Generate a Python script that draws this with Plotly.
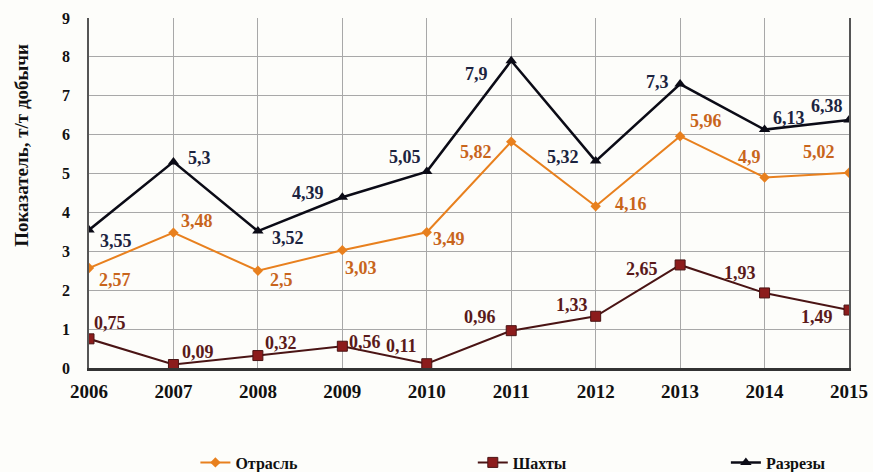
import plotly.graph_objects as go

years = [2006, 2007, 2008, 2009, 2010, 2011, 2012, 2013, 2014, 2015]
otrasl = [2.57, 3.48, 2.5, 3.03, 3.49, 5.82, 4.16, 5.96, 4.9, 5.02]
shakhty = [0.75, 0.09, 0.32, 0.56, 0.11, 0.96, 1.33, 2.65, 1.93, 1.49]
razrezy = [3.55, 5.3, 3.52, 4.39, 5.05, 7.9, 5.32, 7.3, 6.13, 6.38]
y_title = "Показатель, т/т добычи"

# value-label offsets from each marker, in screen pixels (dx right, dy down)
off_otrasl = [(26, 12), (24, -12), (24, 9), (19, 18), (22, 7),
              (-35, 10), (35, -2), (26, -15), (-15, -20), (-30, -21)]
off_shakhty = [(21, -16), (25, -13), (23, -13), (23, -4), (-25, -18),
               (-31, -14), (-24, -11), (-38, 4), (-25, -20), (-32, 7)]
off_razrezy = [(27, 11), (26, -4), (30, 7), (-34, -4), (-22, -15),
               (-35, 13), (-33, -4), (-23, -2), (24, -12), (-22, -14)]

def fmt(v):
    return str(v).replace(".", ",")

SERIF = "Liberation Serif"
ORANGE = "#E8801E"
MAROON = "#8C1C1C"
BLACK = "#0B0B16"
LABEL_SIZE = 18

series = [
    dict(name="Отрасль", values=otrasl, offsets=off_otrasl, legend="legend",
         line=dict(color=ORANGE, width=2),
         marker=dict(symbol="diamond", size=8, color=ORANGE),
         label_color="#C8651C"),
    dict(name="Шахты", values=shakhty, offsets=off_shakhty, legend="legend2",
         line=dict(color="#4A1414", width=2),
         marker=dict(symbol="square", size=10, color=MAROON, line=dict(color="#4A1414", width=1)),
         label_color="#5A1A1A"),
    dict(name="Разрезы", values=razrezy, offsets=off_razrezy, legend="legend3",
         line=dict(color=BLACK, width=2.5),
         marker=dict(symbol="triangle-up", size=10, color=BLACK),
         label_color="#1C2440"),
]

fig = go.Figure()
annotations = []
for s in series:
    fig.add_trace(go.Scatter(
        x=years, y=s["values"], name=s["name"], mode="lines+markers",
        legend=s["legend"], line=s["line"], marker=s["marker"],
    ))
    for yr, v, (dx, dy) in zip(years, s["values"], s["offsets"]):
        annotations.append(dict(
            x=yr, y=v, xref="x", yref="y", text=fmt(v), showarrow=False,
            xanchor="center", yanchor="middle", xshift=dx, yshift=-dy,
            font=dict(family=SERIF, size=LABEL_SIZE, color=s["label_color"], weight="bold"),
        ))

annotations.append(dict(
    text=y_title, textangle=-90, xref="paper", yref="paper",
    x=-0.088, y=0.635, xanchor="center", yanchor="middle", showarrow=False,
    font=dict(family=SERIF, size=19, color="#111111", weight="bold"),
))

legend_font = dict(family=SERIF, size=16, color="#111111", weight="bold")
legend_common = dict(orientation="h", yanchor="middle", y=-0.27, xanchor="left",
                     bgcolor="rgba(0,0,0,0)", font=legend_font, itemwidth=30)

fig.update_layout(
    width=873, height=472,
    margin=dict(l=89, r=24, t=18, b=104, autoexpand=False),
    paper_bgcolor="#FDFDFA", plot_bgcolor="#FDFDFA",
    font=dict(family=SERIF, size=15, color="#111111"),
    showlegend=True,
    legend=dict(x=0.14, **legend_common),
    legend2=dict(x=0.505, **legend_common),
    legend3=dict(x=0.838, **legend_common),
    annotations=annotations,
)
fig.update_xaxes(
    range=[2006, 2015], tickmode="array", tickvals=years, ticktext=[str(y) for y in years],
    showgrid=True, gridcolor="#A8A8A8", gridwidth=1,
    showline=True, linecolor="#333333", linewidth=2.5, mirror=False,
    tickfont=dict(family=SERIF, size=19, color="#111111", weight="bold"),
    zeroline=False, ticks="", ticklabelstandoff=4,
)
fig.update_yaxes(
    range=[0, 9], dtick=1,
    showgrid=True, gridcolor="#A8A8A8", gridwidth=1,
    showline=True, linecolor="#555555", linewidth=1.5, mirror=True,
    tickfont=dict(family=SERIF, size=16, color="#111111", weight="bold"),
    zeroline=False, ticks="", ticklabelstandoff=14,
)

fig.write_html("out.html")
